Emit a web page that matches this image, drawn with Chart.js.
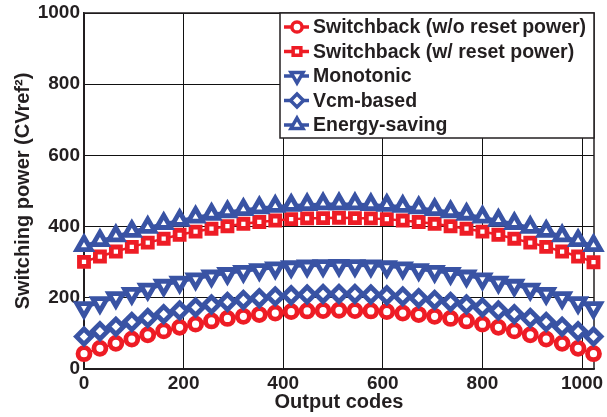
<!DOCTYPE html>
<html>
<head>
<meta charset="utf-8">
<title>Switching power</title>
<style>
    body { margin: 0; background: #fff; }
    #chart { width: 607px; height: 417px; }
</style>
</head>
<body>
<div id="chart">
    <canvas id="powerChart" width="607" height="417"></canvas>
</div>
<script src="https://cdn.jsdelivr.net/npm/chart.js@4/dist/chart.umd.min.js"></script>
<script>
    // output codes where the markers sit
    const codes = [0, 32, 64, 96, 128, 160, 192, 224, 256, 288, 320, 352, 384, 416, 448, 480, 512,
        544, 576, 608, 640, 672, 704, 736, 768, 800, 832, 864, 896, 928, 960, 992, 1023];

    const seriesNames = ["Switchback (w/o reset power)", "Switchback (w/ reset power)",
        "Monotonic", "Vcm-based", "Energy-saving"];

    const switchbackNoReset = [43, 58, 72, 84, 96, 107, 117, 126, 135, 142, 148, 153, 157, 161, 163, 164, 165,
        164, 163, 161, 157, 153, 148, 142, 135, 126, 117, 107, 96, 84, 72, 58, 43];
    const switchbackReset = [301, 316, 330, 343, 355, 366, 377, 386, 394, 401, 408, 413, 417, 421, 423, 424, 425,
        424, 423, 421, 417, 413, 408, 401, 394, 386, 377, 366, 355, 343, 330, 316, 300];
    const monotonic = [172, 186, 200, 212, 224, 235, 244, 253, 261, 268, 274, 279, 284, 287, 289, 290, 291,
        290, 289, 287, 284, 279, 274, 268, 261, 253, 244, 235, 224, 212, 200, 186, 172];
    const vcmBased = [91, 106, 119, 132, 143, 154, 164, 173, 181, 188, 194, 199, 204, 207, 209, 211, 211,
        211, 209, 207, 204, 199, 194, 188, 181, 173, 164, 154, 143, 132, 119, 106, 91];
    const energySaving = [347, 361, 374, 387, 398, 409, 418, 427, 435, 442, 448, 453, 457, 460, 462, 464, 464,
        464, 462, 460, 457, 453, 448, 442, 435, 427, 418, 409, 398, 387, 374, 361, 347];

    const xTicks = [0, 200, 400, 600, 800, 1000];
    const yTicks = [0, 200, 400, 600, 800, 1000];

    const red = "#ee1c25";
    const blue = "#3953a4";
    const ink = "#231f20";

    Chart.defaults.font.family = "'Liberation Sans', Arial, Helvetica, sans-serif";
    Chart.defaults.color = ink;

    const styles = [
        { color: red, pointStyle: "circle", radius: 6, rotation: 0 },
        { color: red, pointStyle: "rect", radius: 6.4, rotation: 0 },
        { color: blue, pointStyle: "triangle", radius: 8.2, rotation: 180 },
        { color: blue, pointStyle: "rectRot", radius: 7.6, rotation: 0 },
        { color: blue, pointStyle: "triangle", radius: 8.2, rotation: 0 }
    ];
    const values = [switchbackNoReset, switchbackReset, monotonic, vcmBased, energySaving];

    const datasets = values.map((vals, i) => ({
        label: seriesNames[i],
        data: vals.map((v, j) => ({ x: codes[j], y: v })),
        showLine: true,
        borderColor: styles[i].color,
        borderWidth: 2.5,
        pointStyle: styles[i].pointStyle,
        pointRotation: styles[i].rotation,
        pointRadius: styles[i].radius,
        pointBorderWidth: 4.8,
        pointBorderColor: styles[i].color,
        pointBackgroundColor: "#fff",
        clip: false,
        order: 4 - i
    }));

    // boxed legend drawn inside the top right corner, marker with a short line through it
    const boxedLegend = {
        id: "boxedLegend",
        afterDraw(chart) {
            const ctx = chart.ctx;
            const area = chart.chartArea;
            const x0 = area.right - 314;
            const y0 = area.top;
            ctx.save();
            ctx.fillStyle = "#fff";
            ctx.fillRect(x0, y0, area.right - x0, 125);
            ctx.strokeStyle = ink;
            ctx.lineWidth = 1.5;
            ctx.strokeRect(x0, y0, area.right - x0, 125);
            ctx.font = "bold 19.5px 'Liberation Sans', Arial, sans-serif";
            ctx.textBaseline = "middle";
            seriesNames.forEach((name, i) => {
                const y = y0 + 14 + i * 24.5;
                const st = styles[i];
                ctx.strokeStyle = st.color;
                ctx.lineWidth = 3.5;
                ctx.beginPath();
                ctx.moveTo(x0 + 4, y);
                ctx.lineTo(x0 + 29, y);
                ctx.stroke();
                ctx.fillStyle = "#fff";
                Chart.helpers.drawPoint(ctx, {
                    pointStyle: st.pointStyle,
                    rotation: st.rotation,
                    radius: st.radius * 0.85,
                    borderWidth: 4
                }, x0 + 17, y);
                ctx.fillStyle = ink;
                ctx.fillText(name, x0 + 33, y + 1);
            });
            ctx.restore();
        }
    };

    // closes the box on the top and right
    const frame = {
        id: "frame",
        beforeDatasetsDraw(chart) {
            const ctx = chart.ctx;
            const a = chart.chartArea;
            ctx.save();
            ctx.strokeStyle = ink;
            ctx.lineWidth = 1.5;
            ctx.strokeRect(a.left, a.top, a.right - a.left, a.bottom - a.top);
            ctx.restore();
        }
    };

    new Chart(document.getElementById("powerChart").getContext("2d"), {
        type: "scatter",
        data: { datasets: datasets },
        options: {
            responsive: false,
            animation: false,
            layout: { padding: { top: 10, right: 9, left: 0, bottom: 0 } },
            plugins: {
                legend: { display: false },
                tooltip: { enabled: false }
            },
            scales: {
                x: {
                    type: "linear",
                    min: 0,
                    max: 1024,
                    afterBuildTicks: s => { s.ticks = xTicks.map(v => ({ value: v })); },
                    afterFit: s => {
                        s.height = 48;
                        s.paddingLeft = 0;
                        s.paddingRight = 0;
                    },
                    ticks: {
                        font: { size: 19, weight: "bold" },
                        color: ink,
                        padding: 3,
                        maxRotation: 0,
                        autoSkip: false,
                        callback: v => String(v)
                    },
                    grid: { color: "#111", lineWidth: 1, drawTicks: false },
                    border: { color: ink, width: 1.5 },
                    title: {
                        display: true,
                        text: "Output codes",
                        font: { size: 20, weight: "bold" },
                        color: ink,
                        padding: { top: 0, bottom: 3 }
                    }
                },
                y: {
                    min: 0,
                    max: 1000,
                    afterBuildTicks: s => { s.ticks = yTicks.map(v => ({ value: v })); },
                    afterFit: s => {
                        s.width = 84;
                        s.paddingTop = 0;
                        s.paddingBottom = 0;
                    },
                    ticks: {
                        font: { size: 19, weight: "bold" },
                        color: ink,
                        padding: 4,
                        autoSkip: false,
                        callback: v => String(v)
                    },
                    grid: { color: "#111", lineWidth: 1, drawTicks: false },
                    border: { color: ink, width: 1.5 },
                    title: {
                        display: true,
                        text: "Switching power (CVref\u00b2)",
                        font: { size: 20, weight: "bold" },
                        color: ink,
                        padding: { top: 11, bottom: 0 }
                    }
                }
            }
        },
        plugins: [frame, boxedLegend]
    });
</script>
</body>
</html>
